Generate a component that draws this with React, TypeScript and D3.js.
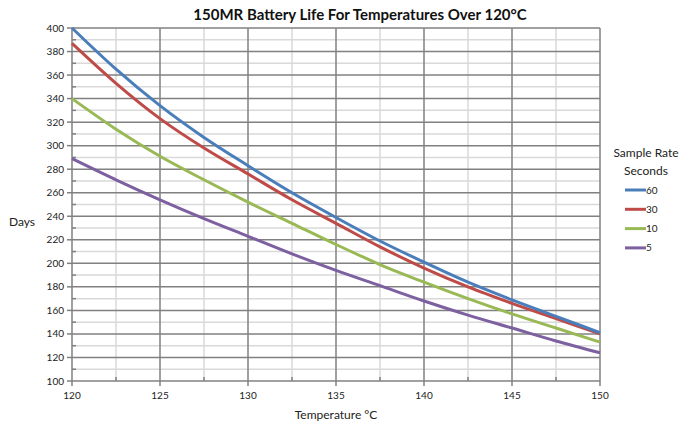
import { useEffect, useRef } from "react";
import * as d3 from "d3";

const temps = [120, 122.5, 125, 127.5, 130, 132.5, 135, 137.5, 140, 142.5, 145, 147.5, 150];
const rate60 = [400, 365, 334, 307, 283, 260, 239, 219, 201, 184, 169, 155, 141];
const rate30 = [387, 353, 323, 298, 276, 254, 234, 214, 196, 180, 166, 153, 140];
const rate10 = [340, 314, 291, 271, 252, 234, 216, 199, 184, 170, 157, 145, 133];
const rate5 = [289, 271, 254, 238, 223, 208, 194, 181, 168, 156, 145, 134, 124];

const seriesNames = ["60", "30", "10", "5"];
const seriesValues = [rate60, rate30, rate10, rate5];
const seriesColors = ["#4a7ebb", "#be4b48", "#98b954", "#7d60a0"];

const xTicks = [120, 125, 130, 135, 140, 145, 150];
const xMinor = [122.5, 127.5, 132.5, 137.5, 142.5, 147.5];
const yTicks = [100, 120, 140, 160, 180, 200, 220, 240, 260, 280, 300, 320, 340, 360, 380, 400];
const yMinor = [110, 130, 150, 170, 190, 210, 230, 250, 270, 290, 310, 330, 350, 370, 390];

export default function App() {
  const svgRef = useRef<SVGSVGElement>(null);

  useEffect(() => {
    if (!svgRef.current) return;
    const svg = d3.select(svgRef.current);
    svg.selectAll("*").remove();

    const width = 679;
    const height = 425;
    const left = 72;
    const right = 600;
    const top = 28;
    const bottom = 381;

    const x = d3.scaleLinear().domain([120, 150]).range([left, right]);
    const y = d3.scaleLinear().domain([100, 400]).range([bottom, top]);

    svg.attr("width", width).attr("height", height);

    const font = "Lato, 'Open Sans', sans-serif";

    // minor grid
    const grid = svg.append("g");
    yMinor.forEach((v) => {
      grid.append("line")
        .attr("x1", left).attr("x2", right)
        .attr("y1", y(v)).attr("y2", y(v))
        .attr("stroke", "#d9d9d9").attr("stroke-width", 1.5);
    });
    xMinor.forEach((v) => {
      grid.append("line")
        .attr("x1", x(v)).attr("x2", x(v))
        .attr("y1", top).attr("y2", bottom)
        .attr("stroke", "#d9d9d9").attr("stroke-width", 1.5);
    });
    // major grid
    yTicks.forEach((v) => {
      grid.append("line")
        .attr("x1", left).attr("x2", right)
        .attr("y1", y(v)).attr("y2", y(v))
        .attr("stroke", "#808080").attr("stroke-width", 1.5);
    });
    xTicks.forEach((v) => {
      grid.append("line")
        .attr("x1", x(v)).attr("x2", x(v))
        .attr("y1", top).attr("y2", bottom)
        .attr("stroke", "#808080").attr("stroke-width", 1.5);
    });

    // tick marks
    yTicks.forEach((v) => {
      grid.append("line")
        .attr("x1", left - 5).attr("x2", left)
        .attr("y1", y(v)).attr("y2", y(v))
        .attr("stroke", "#808080").attr("stroke-width", 1.5);
    });
    yMinor.forEach((v) => {
      grid.append("line")
        .attr("x1", left).attr("x2", left + 4)
        .attr("y1", y(v)).attr("y2", y(v))
        .attr("stroke", "#808080").attr("stroke-width", 1.5);
    });
    xTicks.forEach((v) => {
      grid.append("line")
        .attr("x1", x(v)).attr("x2", x(v))
        .attr("y1", bottom).attr("y2", bottom + 5)
        .attr("stroke", "#808080").attr("stroke-width", 1.5);
    });
    xMinor.forEach((v) => {
      grid.append("line")
        .attr("x1", x(v)).attr("x2", x(v))
        .attr("y1", bottom - 4).attr("y2", bottom)
        .attr("stroke", "#808080").attr("stroke-width", 1.5);
    });

    // lines
    const line = d3.line<number>()
      .x((_, i) => x(temps[i]))
      .y((d) => y(d))
      .curve(d3.curveMonotoneX);

    seriesValues.slice().reverse().forEach((vals, ri) => {
      const i = seriesValues.length - 1 - ri;
      svg.append("path")
        .datum(vals)
        .attr("fill", "none")
        .attr("stroke", seriesColors[i])
        .attr("stroke-width", 3)
        .attr("d", line);
    });

    // tick labels
    yTicks.forEach((v) => {
      svg.append("text")
        .attr("x", left - 8).attr("y", y(v))
        .attr("dy", "0.35em")
        .attr("text-anchor", "end")
        .attr("font-family", font).attr("font-size", 10)
        .attr("fill", "#222")
        .text(v);
    });
    xTicks.forEach((v) => {
      svg.append("text")
        .attr("x", x(v)).attr("y", bottom + 18)
        .attr("text-anchor", "middle")
        .attr("font-family", font).attr("font-size", 10)
        .attr("fill", "#222")
        .text(v);
    });

    // titles
    svg.append("text")
      .attr("x", 360).attr("y", 20)
      .attr("text-anchor", "middle")
      .attr("font-family", font).attr("font-weight", "bold").attr("font-size", 15)
      .attr("fill", "#111")
      .text("150MR Battery Life For Temperatures Over 120°C");

    svg.append("text")
      .attr("x", 336).attr("y", 419)
      .attr("text-anchor", "middle")
      .attr("font-family", font).attr("font-size", 12)
      .attr("fill", "#222")
      .text("Temperature °C");

    svg.append("text")
      .attr("x", 22).attr("y", 226)
      .attr("text-anchor", "middle")
      .attr("font-family", font).attr("font-size", 12)
      .attr("fill", "#222")
      .text("Days");

    // legend
    const lg = svg.append("g");
    lg.append("text")
      .attr("x", 646).attr("y", 157)
      .attr("text-anchor", "middle")
      .attr("font-family", font).attr("font-size", 12)
      .attr("fill", "#222")
      .text("Sample Rate");
    lg.append("text")
      .attr("x", 646).attr("y", 175)
      .attr("text-anchor", "middle")
      .attr("font-family", font).attr("font-size", 12)
      .attr("fill", "#222")
      .text("Seconds");
    seriesNames.forEach((name, i) => {
      const ly = 190 + i * 19.3;
      lg.append("line")
        .attr("x1", 625).attr("x2", 646)
        .attr("y1", ly).attr("y2", ly)
        .attr("stroke", seriesColors[i]).attr("stroke-width", 3);
      lg.append("text")
        .attr("x", 646).attr("y", ly)
        .attr("dy", "0.35em")
        .attr("font-family", font).attr("font-size", 10)
        .attr("fill", "#222")
        .text(name);
    });
  }, []);

  return (
    <svg ref={svgRef} style={{ position: "absolute", left: 0, top: 0, display: "block" }} />
  );
}
